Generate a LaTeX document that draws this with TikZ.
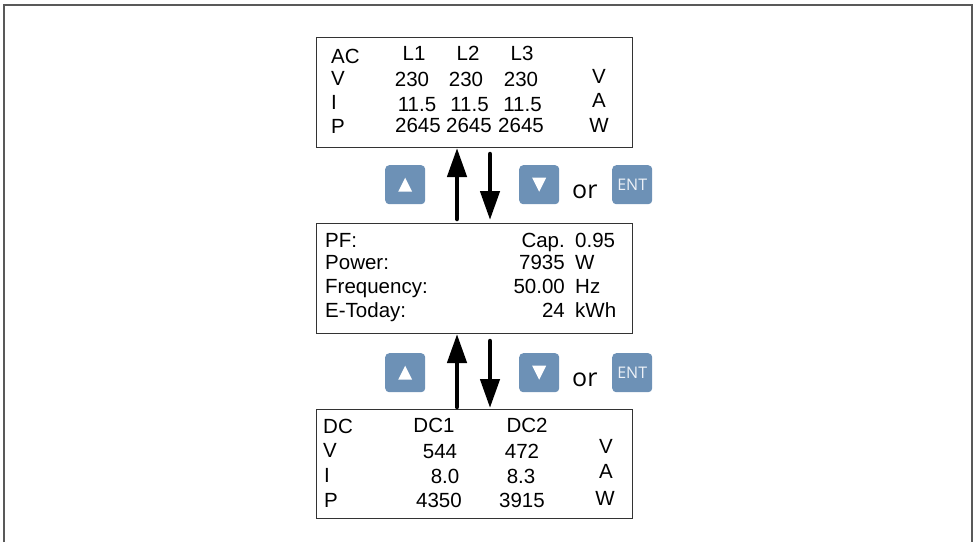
\documentclass[tikz,border=0pt]{standalone}
\usepackage{fontspec}
\setmainfont{Liberation Sans}
\newfontfamily\osans{Open Sans}
\usetikzlibrary{arrows.meta,calc}
\definecolor{btn}{HTML}{6D91B6}
\definecolor{entc}{HTML}{EEF2F8}
\begin{document}
\begin{tikzpicture}[x=1pt,y=-1pt,
  lcd/.style={draw=black!80,line width=1pt,inner sep=0pt,anchor=north west,minimum width=316pt,minimum height=110pt},
  txt/.style={inner sep=0pt,font=\fontsize{20.5}{24}\selectfont},
  lt/.style={txt,anchor=base west},
  ct/.style={txt,anchor=base},
  rt/.style={txt,anchor=base east},
  btnbox/.style={fill=btn,rounded corners=4pt,minimum width=40pt,minimum height=39pt,inner sep=0pt,anchor=north west},
  enttext/.style={inner sep=0pt,text=entc,font=\osans\fontsize{16}{18}\selectfont},
  ortext/.style={inner sep=0pt,anchor=base west,font=\osans\fontsize{25}{28}\selectfont},
  arr/.style={line width=4.5pt,line cap=round,-{Triangle[width=19pt,length=29pt]}},
]
\useasboundingbox (0,0) rectangle (977,542);
% outer frame (open at bottom)
\draw[black!65,line width=1.5pt] (4,542) -- (4,5) -- (972,5) -- (972,542);

% boxes
\node[lcd] (b1) at (316,37) {};
\node[lcd] (b2) at (316,223) {};
\node[lcd,minimum height=109pt] (b3) at (316,409) {};

% box 1 text
\node[lt] (ac) at (331,63) {AC};
\node[lt] (av) at (331,85) {V};
\node[lt] (ai) at (331,109) {I};
\node[lt] (ap) at (331,133) {P};
\node[ct] (l1) at (414,60) {L1};
\node[ct] (l2) at (468,60) {L2};
\node[ct] (l3) at (522,60) {L3};
\node[ct] (v1) at (412,86) {230};
\node[ct] (v2) at (466,86) {230};
\node[ct] (v3) at (521,86) {230};
\node[ct] (i1) at (417,111) {11.5};
\node[ct] (i2) at (469.5,111) {11.5};
\node[ct] (i3) at (522.5,111) {11.5};
\node[ct] (p1) at (418,132) {2645};
\node[ct] (p2) at (469,132) {2645};
\node[ct] (p3) at (521,132) {2645};
\node[ct] (uv) at (599,83) {V};
\node[ct] (ua) at (599,107) {A};
\node[ct] (uw) at (599,132) {W};

% box 2 text
\node[lt] (pf) at (325,247) {PF:};
\node[lt] (pw) at (325,269) {Power:};
\node[lt] (fq) at (325,293) {Frequency:};
\node[lt] (et) at (325,317) {E-Today:};
\node[rt] (cap) at (565,247) {Cap.};
\node[rt] (pwv) at (565,269) {7935};
\node[rt] (fqv) at (565,293) {50.00};
\node[rt] (etv) at (565,317) {24};
\node[lt] (pfu) at (575,247) {0.95};
\node[lt] (pwu) at (575,269) {W};
\node[lt] (fqu) at (575,293) {Hz};
\node[lt] (etu) at (575,317) {kWh};

% box 3 text
\node[lt] (dc) at (323,433) {DC};
\node[lt] (dv) at (323,457) {V};
\node[lt] (di) at (324,482) {I};
\node[lt] (dp) at (324,507) {P};
\node[ct] (dc1) at (434,432) {DC1};
\node[ct] (dc2) at (527,432) {DC2};
\node[ct] (dv1) at (440,458) {544};
\node[ct] (dv2) at (522,458) {472};
\node[ct] (di1) at (445,483) {8.0};
\node[ct] (di2) at (521,483) {8.3};
\node[ct] (dp1) at (439,507) {4350};
\node[ct] (dp2) at (522,507) {3915};
\node[ct] (duv) at (606,453) {V};
\node[ct] (dua) at (606,478) {A};
\node[ct] (duw) at (605,505) {W};

% buttons row 1
\node[btnbox] (up1) at (385,165) {};
\node[btnbox] (dn1) at (519,165) {};
\node[btnbox] (en1) at (612,165) {};
\node[enttext] (en1t) at (en1.center) {ENT};
\node[ortext] (or1) at (572,198) {or};
\fill[white] ($(up1.center)+(-7,7)$) -- ($(up1.center)+(7,7)$) -- ($(up1.center)+(0,-7)$) -- cycle;
\fill[white] ($(dn1.center)+(-7,-7)$) -- ($(dn1.center)+(7,-7)$) -- ($(dn1.center)+(0,7)$) -- cycle;

% buttons row 2
\node[btnbox] (up2) at (385,353) {};
\node[btnbox] (dn2) at (519,353) {};
\node[btnbox] (en2) at (612,353) {};
\node[enttext] (en2t) at (en2.center) {ENT};
\node[ortext] (or2) at (572,386) {or};
\fill[white] ($(up2.center)+(-7,7)$) -- ($(up2.center)+(7,7)$) -- ($(up2.center)+(0,-7)$) -- cycle;
\fill[white] ($(dn2.center)+(-7,-7)$) -- ($(dn2.center)+(7,-7)$) -- ($(dn2.center)+(0,7)$) -- cycle;

% arrows
\coordinate (ux) at (457,0);
\coordinate (dx) at (490,0);
\draw[arr] ($(b2.north -| ux)+(0,-4)$) -- (b1.south -| ux);
\draw[arr] ($(b1.south -| dx)+(0,6)$) -- ($(b2.north -| dx)+(0,-3)$);
\draw[arr] ($(b3.north -| ux)+(0,-2)$) -- (b2.south -| ux);
\draw[arr] ($(b2.south -| dx)+(0,7)$) -- ($(b3.north -| dx)+(0,-1)$);
\end{tikzpicture}
\end{document}
